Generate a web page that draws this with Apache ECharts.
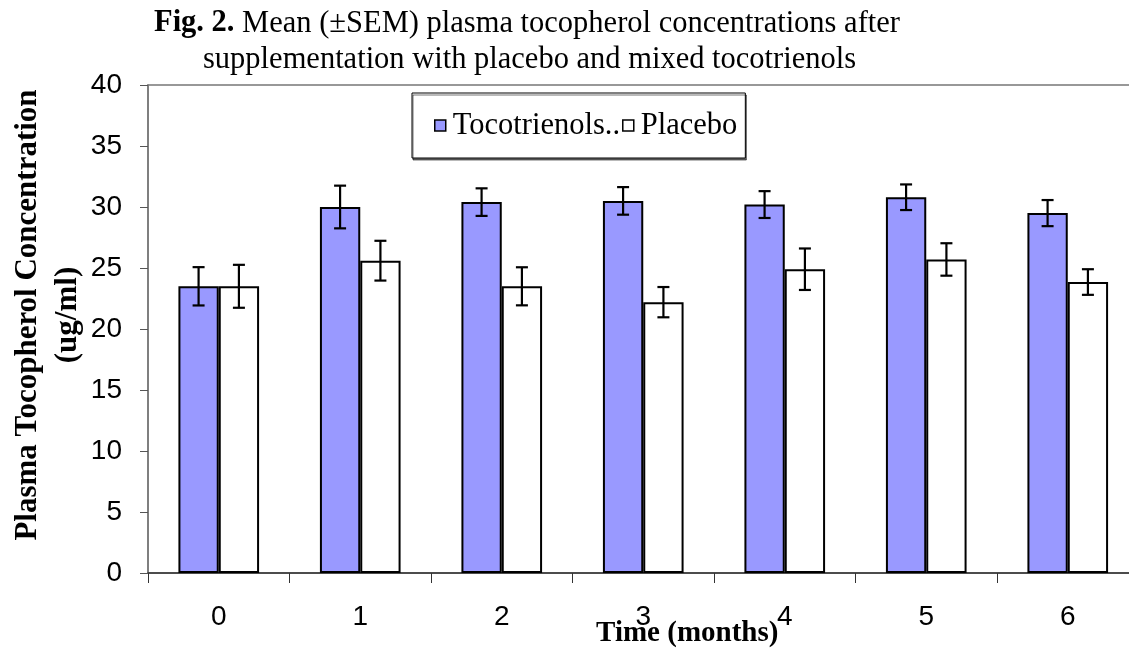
<!DOCTYPE html>
<html>
<head>
<meta charset="utf-8">
<script src="https://cdn.jsdelivr.net/npm/echarts@6/dist/echarts.min.js"></script>
<style>html,body{margin:0;padding:0;background:#fff;overflow:hidden}#c{width:1129px;height:649px}</style>
</head>
<body>
<div id="c"></div>
<script>
const categories = ['0', '1', '2', '3', '4', '5', '6'];
const tocoMean = [23.5, 30.0, 30.4, 30.5, 30.2, 30.8, 29.5];
const tocoSem = [1.57, 1.75, 1.13, 1.13, 1.1, 1.05, 1.07];
const placeboMean = [23.5, 25.6, 23.5, 22.2, 24.9, 25.7, 23.85];
const placeboSem = [1.76, 1.63, 1.56, 1.24, 1.7, 1.33, 1.05];
const seriesNames = ['Tocotrienols..', 'Placebo'];
const yMin = 0, yMax = 40, yStep = 5;

const CAT_GAP = 0.43;
const barFrac = (1 - CAT_GAP) / 2;

function errRender(side) {
  return function (params, api) {
    const x = api.value(0), m = api.value(1), s = api.value(2);
    const band = api.size([1, 0])[0];
    const off = side * band * barFrac / 2;
    const hi = api.coord([x, m + s]);
    const lo = api.coord([x, m - s]);
    const cx = hi[0] + off;
    const cap = 6;
    const st = { stroke: '#000', lineWidth: 2.2 };
    return {
      type: 'group',
      children: [
        { type: 'line', shape: { x1: cx, y1: hi[1], x2: cx, y2: lo[1] }, style: st },
        { type: 'line', shape: { x1: cx - cap, y1: hi[1], x2: cx + cap, y2: hi[1] }, style: st },
        { type: 'line', shape: { x1: cx - cap, y1: lo[1], x2: cx + cap, y2: lo[1] }, style: st }
      ]
    };
  };
}

const chart = echarts.init(document.getElementById('c'));
chart.setOption({
  animation: false,
  backgroundColor: '#fff',
  title: [
    {
      left: 154, top: 8,
      text: '{b|Fig. 2.} Mean (±SEM) plasma tocopherol concentrations after',
      textStyle: { fontFamily: 'Liberation Serif', fontSize: 30.5, fontWeight: 'normal', color: '#000',
        rich: { b: { fontFamily: 'Liberation Serif', fontSize: 30.5, fontWeight: 'bold', color: '#000' } } },
      padding: 0
    },
    {
      left: 203, top: 44,
      text: 'supplementation with placebo and mixed tocotrienols',
      textStyle: { fontFamily: 'Liberation Serif', fontSize: 30.5, fontWeight: 'normal', color: '#000' },
      padding: 0
    }
  ],
  legend: {
    data: seriesNames,
    left: 412, top: 93,
    padding: [17, 8, 17, 22],
    itemGap: 2,
    itemWidth: 11, itemHeight: 11,
    icon: 'rect',
    itemStyle: { borderColor: '#000', borderWidth: 1.5 },
    textStyle: { fontFamily: 'Liberation Serif', fontSize: 30.5, color: '#000', padding: [0, 0, 0, 2] },
    borderColor: '#000', borderWidth: 1,
    backgroundColor: '#fff',
    shadowColor: 'rgba(0,0,0,0.55)', shadowOffsetX: 1, shadowOffsetY: 2, shadowBlur: 0
  },
  grid: {
    left: 148, top: 85, width: 990.5, height: 488,
    outerBoundsMode: 'none',
    containLabel: false,
    show: true, borderColor: '#777', borderWidth: 1.5, backgroundColor: 'transparent'
  },
  xAxis: {
    type: 'category',
    data: categories,
    axisLine: { lineStyle: { color: '#333', width: 1.5 } },
    axisTick: { show: true, length: 10, lineStyle: { color: '#333', width: 1 } },
    axisLabel: { fontFamily: 'Liberation Sans', fontSize: 28, color: '#000', margin: 30 },
    name: 'Time (months)',
    nameLocation: 'middle',
    nameGap: 46,
    nameMoveOverlap: false,
    nameTextStyle: { fontFamily: 'Liberation Serif', fontSize: 29, fontWeight: 'bold', color: '#000', padding: [0, 0, 0, 88] }
  },
  yAxis: {
    type: 'value',
    min: yMin, max: yMax, interval: yStep,
    axisLine: { show: true, lineStyle: { color: '#777', width: 1.5 } },
    axisTick: { show: true, length: 8, lineStyle: { color: '#555', width: 1 } },
    splitLine: { show: false },
    axisLabel: { fontFamily: 'Liberation Sans', fontSize: 28, color: '#000', margin: 26 },
    name: 'Plasma Tocopherol Concentration\n(ug/ml)',
    nameLocation: 'middle',
    nameRotate: 90,
    nameGap: 60,
    nameMoveOverlap: false,
    nameTextStyle: { fontFamily: 'Liberation Serif', fontSize: 31, fontWeight: 'bold', color: '#000', lineHeight: 40, padding: [0, 0, 0, 28] }
  },
  series: [
    {
      name: seriesNames[0], type: 'bar', data: tocoMean,
      barGap: '0%', barCategoryGap: (CAT_GAP * 100) + '%',
      itemStyle: { color: '#9999FF', borderColor: '#000', borderWidth: 2 }
    },
    {
      name: seriesNames[1], type: 'bar', data: placeboMean,
      itemStyle: { color: '#FFFFFF', borderColor: '#000', borderWidth: 2 }
    },
    {
      name: 'errToco', type: 'custom', z: 5,
      renderItem: errRender(-1),
      encode: { x: 0, y: 1 },
      data: categories.map((c, i) => [i, tocoMean[i], tocoSem[i]])
    },
    {
      name: 'errPlacebo', type: 'custom', z: 5,
      renderItem: errRender(1),
      encode: { x: 0, y: 1 },
      data: categories.map((c, i) => [i, placeboMean[i], placeboSem[i]])
    }
  ]
});
</script>
</body>
</html>
